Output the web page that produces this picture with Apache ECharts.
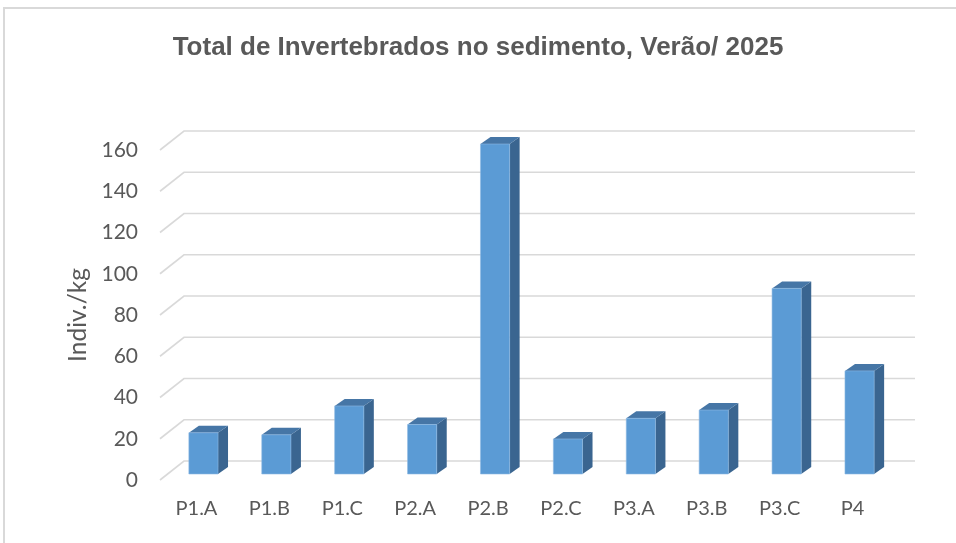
<!DOCTYPE html>
<html>
<head>
<meta charset="utf-8">
<script src="https://cdn.jsdelivr.net/npm/echarts@6/dist/echarts.min.js"></script>
<style>
  html, body { margin: 0; padding: 0; background: #fff; }
  #chart { width: 956px; height: 543px; }
</style>
</head>
<body>
<div id="chart"></div>
<script>
// dados
var categorias = ['P1.A', 'P1.B', 'P1.C', 'P2.A', 'P2.B', 'P2.C', 'P3.A', 'P3.B', 'P3.C', 'P4'];
var valores = [20, 19, 33, 24, 160, 17, 27, 31, 90, 50];
var ticksY = [0, 20, 40, 60, 80, 100, 120, 140, 160];

var myChart = echarts.init(document.getElementById('chart'));

// paredes (linhas de grade em perspectiva)
var renderWalls = function (params, api) {
	var cs = params.coordSys;
	var y = api.coord([0, api.value(1)])[1];
	return {
		type: 'polyline',
		shape: {
			points: [
				[cs.x - 7, y + 6],
				[cs.x + 17, y - 13],
				[cs.x + cs.width + 19, y - 13]
			]
		},
		style: { stroke: '#D9D9D9', lineWidth: 1.6, fill: 'none' },
		silent: true
	};
};

// colunas 3D
var renderBar = function (params, api) {
	var top = api.coord([api.value(0), api.value(1)]);
	var base = api.coord([api.value(0), 0]);
	var w = api.size([1, 0])[0] * 0.4;
	var dx = 10, dy = 7;
	var x0 = top[0] - w / 2, x1 = top[0] + w / 2;
	return {
		type: 'group',
		children: [
			{
				type: 'polygon',
				shape: { points: [[x1, top[1]], [x1 + dx, top[1] - dy], [x1 + dx, base[1] - dy], [x1, base[1]]] },
				style: { fill: '#3A6590' }
			},
			{
				type: 'polygon',
				shape: { points: [[x0, top[1]], [x0 + dx, top[1] - dy], [x1 + dx, top[1] - dy], [x1, top[1]]] },
				style: { fill: '#4676A6' }
			},
			{
				type: 'rect',
				shape: { x: x0, y: top[1], width: w, height: base[1] - top[1] },
				style: { fill: '#5B9BD5', stroke: '#8DB8E2', lineWidth: 0.6 }
			}
		]
	};
};

var option = {
	backgroundColor: '#fff',
	animation: false,
	title: {
		text: 'Total de Invertebrados no sedimento, Verão/ 2025',
		left: 'center',
		top: 30,
		textStyle: {
			fontFamily: 'Liberation Sans',
			fontWeight: 'bold',
			fontSize: 26,
			color: '#595959'
		}
	},
	graphic: [
		{
			type: 'rect',
			shape: { x: 4, y: 8, width: 980, height: 600 },
			style: { fill: 'none', stroke: '#D9D9D9', lineWidth: 2 },
			silent: true
		}
	],
	grid: [
		{ left: 167, right: 60, top: 144, bottom: 69 },
		{ left: 160, right: 67, top: 150, bottom: 63 }
	],
	xAxis: [
		{ type: 'category', gridIndex: 0, data: categorias, show: false },
		{
			type: 'category', gridIndex: 1, data: categorias,
			axisLine: { show: false }, axisTick: { show: false },
			axisLabel: { margin: 19, fontFamily: 'Lato', fontSize: 20, color: '#595959' }
		}
	],
	yAxis: [
		{ type: 'value', gridIndex: 0, min: 0, max: 160, interval: 20, show: false },
		{
			type: 'value', gridIndex: 1, min: 0, max: 160, interval: 20,
			name: 'Indiv./kg',
			nameLocation: 'middle',
			nameGap: 68,
			nameTextStyle: { fontFamily: 'Lato', fontSize: 24.5, color: '#595959' },
			axisLine: { show: false }, axisTick: { show: false },
			splitLine: { show: false },
			axisLabel: { margin: 22, fontFamily: 'Lato', fontSize: 21, color: '#595959' }
		}
	],
	series: [
		{
			type: 'custom',
			name: 'grade',
			xAxisIndex: 0, yAxisIndex: 0,
			renderItem: renderWalls,
			encode: { x: 0, y: 1 },
			data: ticksY.map(function (v) { return [0, v]; }),
			z: 1
		},
		{
			type: 'custom',
			name: 'Total',
			xAxisIndex: 0, yAxisIndex: 0,
			renderItem: renderBar,
			encode: { x: 0, y: 1 },
			data: valores.map(function (v, i) { return [i, v]; }),
			z: 2
		}
	]
};

myChart.setOption(option);
</script>
</body>
</html>
